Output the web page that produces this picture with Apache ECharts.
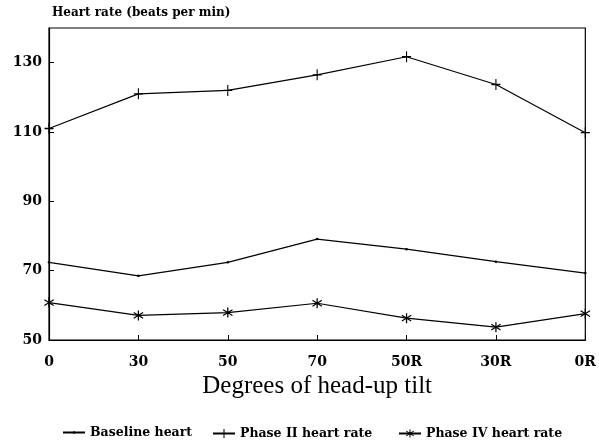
<!DOCTYPE html>
<html>
<head>
<meta charset="utf-8">
<script src="https://cdn.jsdelivr.net/npm/echarts@6/dist/echarts.min.js"></script>
<style>
  html, body { margin: 0; padding: 0; background: #fff; }
  #chart { width: 599px; height: 441px; }
</style>
</head>
<body>
<div id="chart"></div>
<script>
// tilt angles (R = return)
const categories = ['0', '30', '50', '70', '50R', '30R', '0R']
const baselineHeart = [72.4, 68.5, 72.4, 79.1, 76.2, 72.6, 69.3]
const phase2Heart = [111, 121, 122, 126.5, 131.7, 123.7, 109.8]
const phase4Heart = [60.8, 57.1, 57.9, 60.6, 56.3, 53.7, 57.6]
const seriesNames = ['Baseline heart', 'Phase II heart rate', 'Phase IV heart rate']

const serif = '"DejaVu Serif", "Liberation Serif", serif'

// filled marker shapes
const plusPath = 'path://M4.4,0H5.6V10H4.4Z M0,4.4H10V5.6H0Z'
const starPath = 'path://M4.4,0H5.6V10H4.4Z M0.3,2.6L0.9,1.6L9.7,7.4L9.1,8.4Z M0.9,8.4L0.3,7.4L9.1,1.6L9.7,2.6Z'

const chartDom = echarts.init(document.getElementById('chart'))

const makeSeries = (name, data, symbol, size) => ({
  name,
  type: 'line',
  data,
  symbol,
  symbolSize: size,
  showSymbol: true,
  lineStyle: { color: '#000', width: 1.2 },
  itemStyle: { color: '#000' },
  emphasis: { disabled: true },
  animation: false,
})

// one legend per item so each sits where it does in the original
const makeLegend = (name, left, iconH) => ({
  data: [name],
  left,
  top: 433,
  orient: 'horizontal',
  padding: 0,
  itemWidth: 22,
  itemHeight: iconH,
  itemGap: 6,
  textStyle: { fontFamily: serif, fontWeight: 'bold', fontSize: 12.5, color: '#000' },
})

chartDom.setOption({
  backgroundColor: '#fff',
  animation: false,
  title: {
    text: 'Heart rate (beats per min)',
    left: 47,
    top: 2,
    textStyle: { fontFamily: serif, fontWeight: 'bold', fontSize: 12, color: '#000' },
  },
  grid: {
    left: 49,
    right: 10,
    top: 28,
    bottom: 101,
    show: true,
    borderColor: '#000',
    borderWidth: 1.2,
  },
  legend: [
    makeLegend(seriesNames[0], 62, 3),
    makeLegend(seriesNames[1], 212, 11),
    makeLegend(seriesNames[2], 398, 10),
  ],
  xAxis: {
    type: 'category',
    data: categories,
    boundaryGap: false,
    name: 'Degrees of head-up tilt',
    nameLocation: 'middle',
    nameGap: 33,
    nameTextStyle: { fontFamily: '"Liberation Serif", serif', fontSize: 25, color: '#000' },
    axisLine: { lineStyle: { color: '#000', width: 1.2 } },
    axisTick: { inside: true, length: 5, lineStyle: { color: '#000' } },
    axisLabel: { margin: 15, fontFamily: serif, fontWeight: 'bold', fontSize: 14, color: '#000' },
    splitLine: { show: false },
  },
  yAxis: {
    type: 'value',
    min: 50,
    max: 140,
    interval: 20,
    axisLine: { show: true, lineStyle: { color: '#000', width: 1.2 } },
    axisTick: { show: true, inside: true, length: 5, lineStyle: { color: '#000' } },
    axisLabel: { showMaxLabel: false, margin: 7, fontFamily: serif, fontWeight: 'bold', fontSize: 14, color: '#000' },
    splitLine: { show: false },
  },
  series: [
    makeSeries(seriesNames[0], baselineHeart, 'circle', 2.5),
    makeSeries(seriesNames[1], phase2Heart, plusPath, [9, 11]),
    makeSeries(seriesNames[2], phase4Heart, starPath, [10, 10]),
  ],
})

// legend "top" is the box edge; pull each box up so its centre lands on y≈433
chartDom.setOption({
  legend: [
    { top: 426 },
    { top: 427 },
    { top: 427 },
  ],
})
</script>
</body>
</html>
